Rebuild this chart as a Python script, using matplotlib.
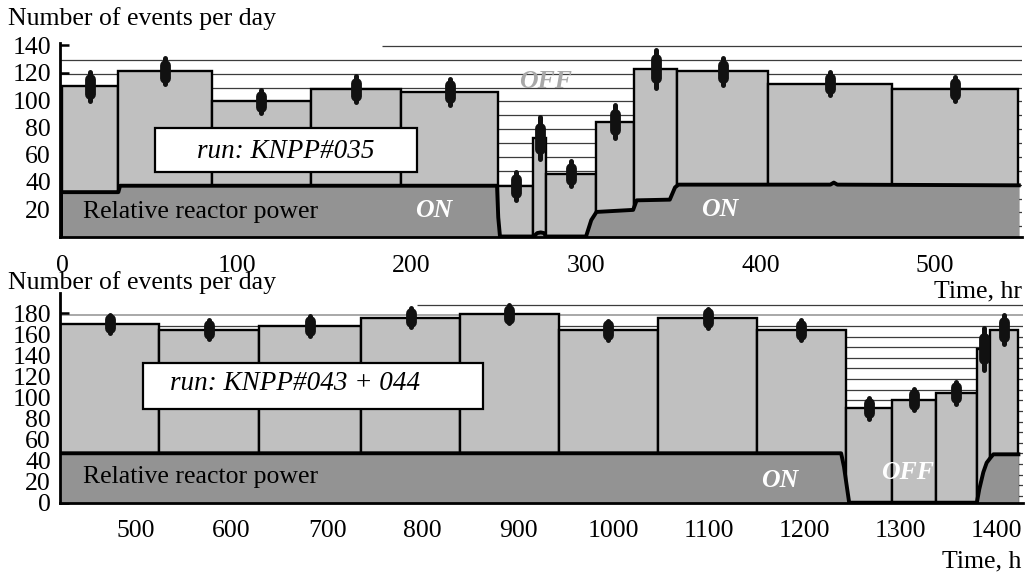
import numpy as np
import matplotlib
matplotlib.use("Agg")
import matplotlib.pyplot as plt
from matplotlib.patches import Rectangle

# ---------------- data: run KNPP#035 (top) ----------------
top_edges = [0, 32, 85.8, 142.2, 194, 249.7, 269.8, 277, 305.7, 327.7, 352.1, 404.5, 475.2, 547.8]
top_rates = [110, 121, 99, 108, 106, 37, 72, 46, 84, 123, 121, 112, 108]
top_errors = [10.5, 9.5, 8.5, 9.5, 9.5, 10, 15.5, 9, 12, 14, 10, 8.5, 8.8]
top_power_t = [0, 32, 33, 249, 249.7, 250.7, 270, 272, 274, 276, 277, 300, 301, 303, 306,
               327, 329, 348, 351, 353, 440, 442, 444, 548]
top_power_v = [32.5, 32.5, 37.2, 37.2, 14, 0, 0, 2.5, 3, 2.5, 0, 0, 4, 12, 18,
               19.5, 26.5, 27, 36, 38, 38, 39.5, 38, 37.5]
top_xticks = [0, 100, 200, 300, 400, 500]
top_yticks = [20, 40, 60, 80, 100, 120, 140]

# ---------------- data: run KNPP#043 + 044 (bottom) ----------------
bot_edges = [420.5, 524.3, 629, 735.5, 839.2, 942.5, 1046.5, 1150, 1243, 1291.6, 1337, 1380, 1394, 1423.5]
bot_rates = [170, 164.5, 168, 176, 179, 164, 175.5, 164, 90, 98, 104.5, 146.5, 164.5]
bot_errors = [8.5, 9, 9.5, 9, 8.5, 9, 9, 9.5, 10, 10, 10.5, 20, 14]
bot_power_t = [420.5, 1238, 1241, 1244, 1246.4, 1380, 1382.6, 1386.8, 1390.3, 1394.5, 1397.3, 1423.5]
bot_power_v = [47, 47, 34, 15, 0, 0, 13, 29, 38, 43, 46, 46]
bot_xticks = [500, 600, 700, 800, 900, 1000, 1100, 1200, 1300, 1400]
bot_yticks = [0, 20, 40, 60, 80, 100, 120, 140, 160, 180]

# ---------------- style ----------------
plt.rcParams["font.family"] = ["Liberation Serif", "DejaVu Serif"]
FS = 18.5
BAR_C = "#c0c0c0"
POW_C = "#939393"
HATCH_C = "#3c3c3c"

W, H = 1026, 574
fig = plt.figure(figsize=(W / 100, H / 100), dpi=100)


def px_axes(l, r, b, t):
    return fig.add_axes([l / W, 1 - b / H, (r - l) / W, (b - t) / H])


def style_axes(ax, xticks, yticks, xpad):
    for s in ("top", "right"):
        ax.spines[s].set_visible(False)
    for s in ("left", "bottom"):
        ax.spines[s].set_linewidth(2.0)
        ax.spines[s].set_zorder(10)
    ax.set_xticks(xticks)
    ax.set_yticks(yticks)
    ax.tick_params(axis="both", direction="in", length=6.5, width=1.8, labelsize=FS)
    ax.tick_params(axis="x", pad=xpad)
    ax.tick_params(axis="y", pad=6.5)
    ax.set_facecolor("none")


def draw_panel(ax, edges, rates, errors, pt, pv):
    edges = np.asarray(edges)
    widths = np.diff(edges)
    centers = edges[:-1] + widths / 2
    rates = np.asarray(rates)
    errors = np.asarray(errors)
    ax.bar(edges[:-1], rates, width=widths, align="edge", color=BAR_C,
           edgecolor="black", linewidth=1.7, zorder=2)
    ax.fill_between(pt, pv, 0, color=POW_C, lw=0, zorder=3)
    ax.plot(pt, pv, color="black", lw=2.8, zorder=4, solid_joinstyle="round")
    thin = ax.vlines(centers, rates - errors, rates + errors, color="#111111", lw=3.6, zorder=5)
    thin.set_capstyle("round")
    thick = ax.vlines(centers, rates - 0.5 * errors, rates + 0.5 * errors, color="#111111", lw=7.8, zorder=5)
    thick.set_capstyle("round")


# ================= top panel =================
ax1 = px_axes(60, 1022.3, 236.5, 42.7)
ax1.set_xlim(-1.43, 550)
ax1.set_ylim(0, 142)
style_axes(ax1, top_xticks, top_yticks, xpad=13.0)
levels = 139.6 - 10.16 * np.arange(14)
ax1.hlines(levels[0], 183, 550, color=HATCH_C, lw=0.9, zorder=1)
ax1.hlines(levels[1:], -1.43, 550, color=HATCH_C, lw=0.9, zorder=1)
draw_panel(ax1, top_edges, top_rates, top_errors, top_power_t, top_power_v)

ax1.add_patch(Rectangle((53, 47.5), 150, 32, facecolor="white", edgecolor="black", lw=1.6, zorder=6))
ax1.text(128, 57.3, "run: KNPP#035", style="italic", fontsize=19.5, ha="center", va="baseline", zorder=7)
ax1.text(11.7, 13.8, "Relative reactor power", fontsize=FS, ha="left", va="baseline", zorder=7)
ax1.text(212.9, 14.5, "ON", fontsize=FS, style="italic", weight="bold", color="white",
         ha="center", va="baseline", zorder=7)
ax1.text(376.4, 15.0, "ON", fontsize=FS, style="italic", weight="bold", color="white",
         ha="center", va="baseline", zorder=7)
ax1.text(277, 108.6, "OFF", fontsize=FS, style="italic", weight="bold", color="#a8a8a8",
         ha="center", va="baseline", zorder=7)

# ================= bottom panel =================
ax2 = px_axes(60, 1022.7, 502.7, 293.4)
ax2.set_xlim(420.5, 1428)
ax2.set_ylim(0, 199)
style_axes(ax2, bot_xticks, bot_yticks, xpad=12.5)
levels2 = 188.3 - 10.1 * np.arange(19)
ax2.hlines(levels2[0], 794, 1428, color=HATCH_C, lw=0.9, zorder=1)
ax2.hlines(levels2[1], 420.5, 1428, color="#9a9a9a", lw=1.2, zorder=1)
ax2.hlines(levels2[2:], 420.5, 1428, color=HATCH_C, lw=0.9, zorder=1)
draw_panel(ax2, bot_edges, bot_rates, bot_errors, bot_power_t, bot_power_v)

ax2.add_patch(Rectangle((507, 89), 356.5, 44, facecolor="white", edgecolor="black", lw=1.6, zorder=6))
ax2.text(535.6, 107, "run: KNPP#043 + 044", style="italic", fontsize=19.5, ha="left", va="baseline", zorder=7)
ax2.text(444.6, 18.4, "Relative reactor power", fontsize=FS, ha="left", va="baseline", zorder=7)
ax2.text(1173.2, 15.2, "ON", fontsize=FS, style="italic", weight="bold", color="white",
         ha="center", va="baseline", zorder=7)
ax2.text(1307.6, 22.2, "OFF", fontsize=FS, style="italic", weight="bold", color="white",
         ha="center", va="baseline", zorder=7)

# ================= figure texts =================
fig.text(8 / W, 1 - 25 / H, "Number of events per day", fontsize=FS, ha="left", va="baseline")
fig.text(8 / W, 1 - 289 / H, "Number of events per day", fontsize=FS, ha="left", va="baseline")
fig.text(1021.7 / W, 1 - 297.3 / H, "Time, hr", fontsize=FS, ha="right", va="baseline")
fig.text(1021.7 / W, 1 - 567.3 / H, "Time, h", fontsize=FS, ha="right", va="baseline")

fig.savefig("out.png", dpi=100)
